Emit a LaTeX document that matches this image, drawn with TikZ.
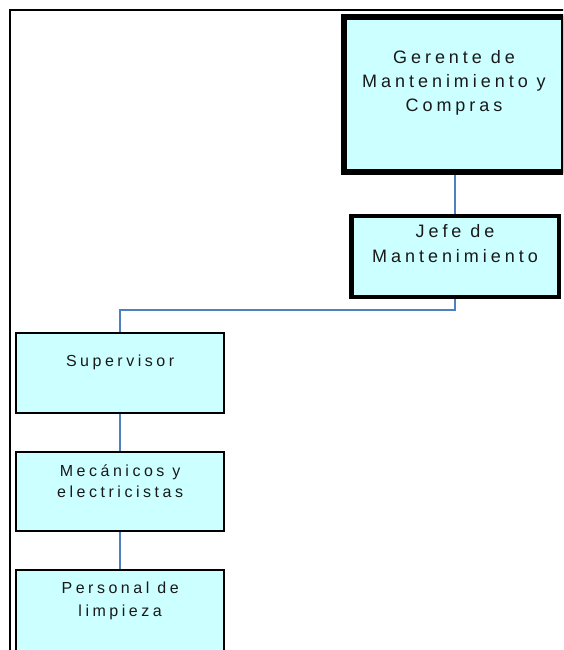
\documentclass[tikz,border=0pt]{standalone}
\usepackage{fontspec}
\newfontfamily\orgfont[LetterSpace=22]{Liberation Sans}
\usetikzlibrary{calc}
\definecolor{boxfill}{RGB}{204,255,255}
\definecolor{linkblue}{RGB}{79,129,189}
\definecolor{inkgray}{RGB}{25,25,25}
\tikzset{
  orgbox/.style={draw=black, fill=boxfill, anchor=north west, inner sep=0pt},
  orgtext/.style={anchor=north, align=center, text=inkgray, inner sep=0pt},
  link/.style={draw=linkblue, line width=1.7pt},
  frameline/.style={draw=black, line width=2pt}
}
\begin{document}
\begin{tikzpicture}[x=1pt, y=-1pt]
\useasboundingbox (0,0) rectangle (563,650);
\clip (0,0) rectangle (563,650);

% outer frame (top and left edges only)
\coordinate (fTL) at (10,10);
\coordinate (fTR) at (565,10);
\coordinate (fBL) at (10,652);
\draw[frameline] (fTR) -- (fTL) -- (fBL);

% boxes
\node[orgbox, line width=4pt, minimum width=218pt, minimum height=152pt] (ger) at (343,16.5) {};
\node[orgbox, line width=3pt, minimum width=206pt, minimum height=79.5pt] (jefe) at (350.5,215) {};
\node[orgbox, line width=1.3pt, minimum width=207pt, minimum height=79pt] (sup) at (16,333) {};
\node[orgbox, line width=1.3pt, minimum width=207pt, minimum height=78pt] (mec) at (16,452) {};
\node[orgbox, line width=1.3pt, minimum width=207pt, minimum height=90pt] (per) at (16,570) {};

% labels
\node[orgtext, font=\orgfont\fontsize{18}{24}\selectfont] (gerT) at ($(ger.north)+(0,34)$) {Gerente de\\Mantenimiento y\\Compras};
\node[orgtext, font=\orgfont\fontsize{18}{25}\selectfont] (jefeT) at ($(jefe.north)+(0,9)$) {Jefe de\\Mantenimiento};
\node[orgtext, font=\orgfont\fontsize{16}{21}\selectfont] (supT) at ($(sup.north)+(0,22)$) {Supervisor};
\node[orgtext, font=\orgfont\fontsize{16}{21}\selectfont] (mecT) at ($(mec.north)+(0,13)$) {Mecánicos y\\electricistas};
\node[orgtext, font=\orgfont\fontsize{16}{23}\selectfont] (perT) at ($(per.north)+(0,12)$) {Personal de\\limpieza};

% connectors
\coordinate (bend1) at (455,310);
\coordinate (bend2) at (120,310);
\draw[link] (ger.south -| bend1) -- (jefe.north -| bend1);
\draw[link] (jefe.south -| bend1) -- (bend1) -- (bend2) -- (sup.north -| bend2);
\draw[link] (sup.south -| bend2) -- (mec.north -| bend2);
\draw[link] (mec.south -| bend2) -- (per.north -| bend2);

% redraw box outlines over the connector ends
\draw[black, line width=4pt] (ger.south west) rectangle (ger.north east);
\draw[black, line width=3pt] (jefe.south west) rectangle (jefe.north east);
\foreach \b in {sup,mec,per}
  \draw[black, line width=1.3pt] (\b.south west) rectangle (\b.north east);
\end{tikzpicture}
\end{document}
